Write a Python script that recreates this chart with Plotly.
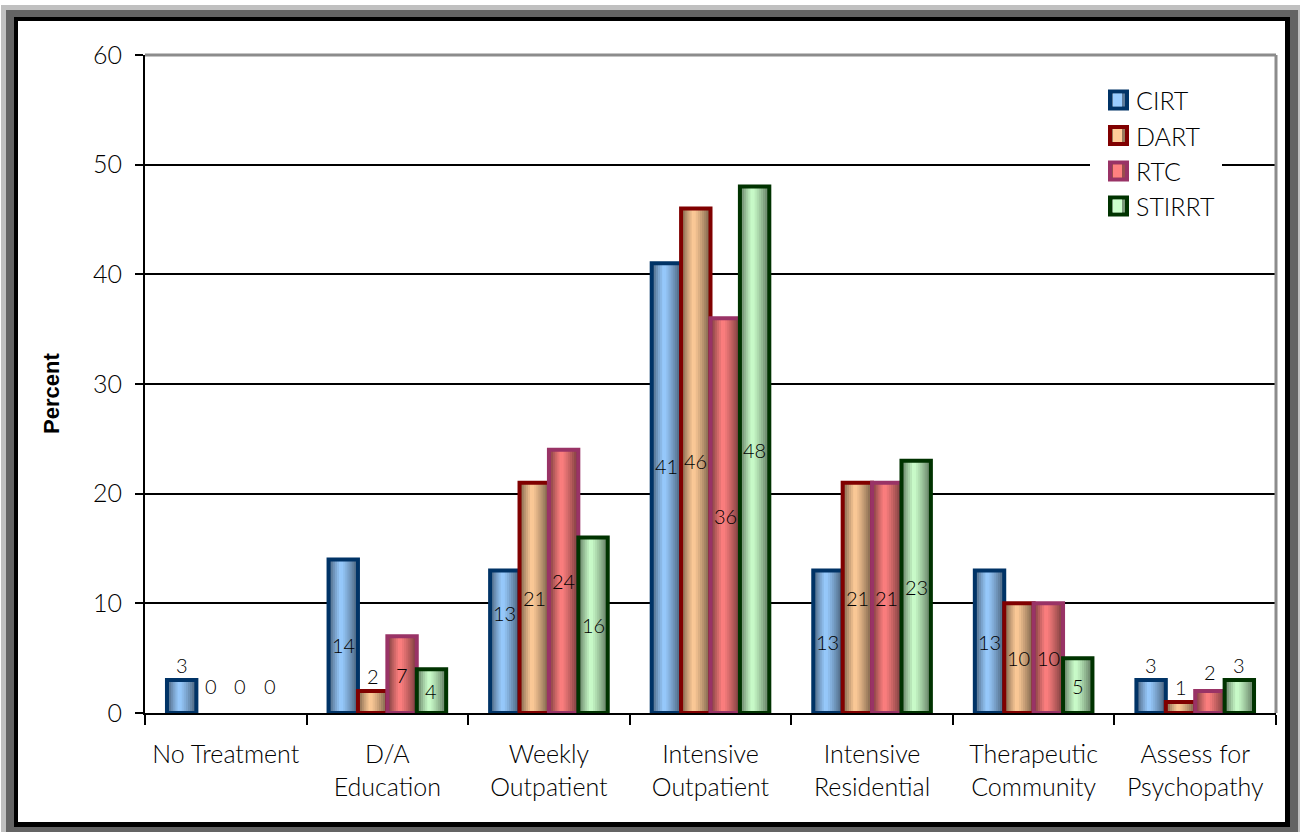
import plotly.graph_objects as go

# ---- data -------------------------------------------------------------
categories = ["No Treatment", "D/A<br>Education", "Weekly<br>Outpatient",
              "Intensive<br>Outpatient", "Intensive<br>Residential",
              "Therapeutic<br>Community", "Assess for<br>Psychopathy"]
series_names = ["CIRT", "DART", "RTC", "STIRRT"]
cirt = [3, 14, 13, 41, 13, 13, 3]
dart = [0, 2, 21, 46, 21, 10, 1]
rtc = [0, 7, 24, 36, 21, 10, 2]
stirrt = [0, 4, 16, 48, 23, 5, 3]
y_ticks = [0, 10, 20, 30, 40, 50, 60]

series_values = [cirt, dart, rtc, stirrt]

# ---- styling ----------------------------------------------------------
fills = ["#99CCFF", "#FFCC99", "#FF8080", "#CCFFCC"]
edges = ["#003366", "#800000", "#993366", "#003300"]
FONT = "Lato"
TEXT = "#000000"

W, H = 1300, 832
L, R, T, B = 145, 1276, 55, 713          # plot area in page pixels


def px(x):
    return (x - L) / (R - L)


def py(y):
    return (B - y) / (B - T)


def hex_rgb(h):
    h = h.lstrip("#")
    return tuple(int(h[i:i + 2], 16) for i in (0, 2, 4))


def shade(h, f):
    r, g, b = hex_rgb(h)
    return "rgb(%d,%d,%d)" % (round(r * f), round(g * f), round(b * f))


def profile(t):
    # horizontal "cylinder" shading: dark edges, light band left of centre
    peak = 0.42
    d = (peak - t) / peak if t < peak else (t - peak) / (1 - peak)
    return 1 - 0.55 * d ** 1.2


BAR_W = 0.182                    # bar width in category units
N_STRIPS = 14
LINE_W = 4

fig = go.Figure()

for s, (vals, fc, ec) in enumerate(zip(series_values, fills, edges)):
    left = -2 * BAR_W + s * BAR_W
    drawn = [v if v else None for v in vals]     # zero-height bars are not drawn
    # gradient body: nested strips, each reaching the right edge of the bar
    for k in range(N_STRIPS):
        t = (k + 0.5) / N_STRIPS
        fig.add_trace(go.Bar(
            x=categories, y=drawn,
            offset=left + k * BAR_W / N_STRIPS,
            width=BAR_W * (N_STRIPS - k) / N_STRIPS,
            marker=dict(color=shade(fc, profile(t)), line=dict(width=0)),
            hoverinfo="skip", showlegend=False,
        ))
    # outline
    fig.add_trace(go.Bar(
        x=categories, y=drawn, offset=left, width=BAR_W,
        marker=dict(color="rgba(0,0,0,0)", line=dict(color=ec, width=LINE_W)),
        name=series_names[s], hoverinfo="skip", showlegend=False,
    ))

# ---- value labels ----------------------------------------------------
label_nudge = {(0, 1): -9, (0, 2): 29, (0, 3): 22, (2, 6): 4}
annotations = []
for s, vals in enumerate(series_values):
    left = -2 * BAR_W + s * BAR_W
    for i, v in enumerate(vals):
        xpos = i + left + BAR_W / 2
        nudge = label_nudge.get((s, i), 0)
        if v <= 3:
            ya, yv, shift = "bottom", v, 1 + nudge + (12 if v == 0 else 0)
        else:
            ya, yv, shift = "middle", v / 2, nudge
        annotations.append(dict(
            x=xpos, y=yv, xref="x", yref="y", text=str(v), showarrow=False,
            xanchor="center", yanchor=ya, yshift=shift,
            font=dict(family=FONT, size=20, color="#000000", weight=300),
        ))

# y-axis title
annotations.append(dict(
    x=px(51), y=py(394), xref="paper", yref="paper", text="<b>Percent</b>",
    showarrow=False, textangle=-90, xanchor="center", yanchor="middle",
    font=dict(family="Liberation Sans", size=22, color="#000000"),
))

# ---- frame, plot border and legend -----------------------------------
shapes = []


def rect(x0, y0, x1, y1, fill, layer="below", line=None):
    d = dict(type="rect", xref="paper", yref="paper",
             x0=px(x0), x1=px(x1), y0=py(y0), y1=py(y1),
             fillcolor=fill, layer=layer, line=dict(width=0))
    if line:
        d["line"] = line
    shapes.append(d)


rect(1, 5, 1302, 840, "#c0c0c0")
rect(6, 10, 1298, 840, "#646464")
rect(14, 17, 1290, 827, "#000000")
rect(18, 21, 1285, 822, "#ffffff")

# plot-area border (top and right)
shapes.append(dict(type="line", xref="paper", yref="paper", x0=0, x1=1, y0=1, y1=1,
                   line=dict(color="#8c8c8c", width=3), layer="above"))
shapes.append(dict(type="line", xref="paper", yref="paper", x0=1, x1=1, y0=0, y1=1,
                   line=dict(color="#8c8c8c", width=3), layer="above"))

# legend box
rect(1090, 82, 1222, 228, "#ffffff", layer="above")
legend_y = [100, 135.5, 171, 206]
for s, cy in enumerate(legend_y):
    rect(1110, cy - 8.5, 1127, cy + 8.5, shade(fills[s], 0.6), layer="above",
         line=dict(color=edges[s], width=LINE_W))
    rect(1113, cy - 6.5, 1122, cy + 6.5, fills[s], layer="above")
    annotations.append(dict(
        x=px(1134), y=py(cy), xref="paper", yref="paper", text=series_names[s],
        showarrow=False, xanchor="left", yanchor="middle",
        font=dict(family=FONT, size=25, color=TEXT, weight=300),
    ))

fig.update_layout(
    width=W, height=H,
    margin=dict(l=L, r=W - R, t=T, b=H - B, pad=0),
    paper_bgcolor="#ffffff", plot_bgcolor="rgba(0,0,0,0)",
    barmode="overlay", showlegend=False,
    shapes=shapes, annotations=annotations,
    font=dict(family=FONT, size=24, color=TEXT),
    xaxis=dict(
        type="category", range=[-0.5, 6.5], showgrid=False, zeroline=False,
        showline=True, linecolor="#000000", linewidth=2,
        ticks="outside", tickson="boundaries", ticklen=10, tickwidth=2,
        tickcolor="#000000", ticklabelstandoff=18,
        tickfont=dict(family=FONT, size=25, color=TEXT, weight=300),
    ),
    yaxis=dict(
        range=[0, 60], tickvals=y_ticks, showgrid=True, gridcolor="#000000",
        gridwidth=2, zeroline=False, showline=True, linecolor="#000000",
        linewidth=2, ticks="outside", ticklen=8, tickwidth=2, tickcolor="#000000",
        ticklabelstandoff=8,
        tickfont=dict(family=FONT, size=25, color=TEXT, weight=300),
    ),
)

fig.write_html("out.html")
